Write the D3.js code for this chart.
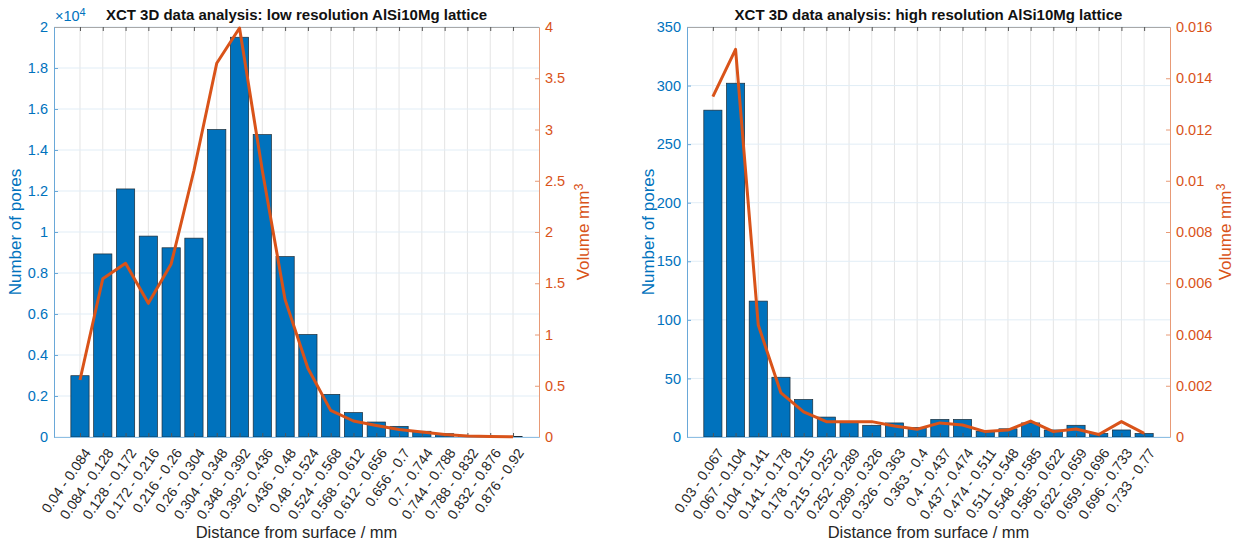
<!DOCTYPE html>
<html>
<head>
<meta charset="utf-8">
<script src="https://cdn.jsdelivr.net/npm/d3@7"></script>
<style>
  body { margin: 0; background: #fff; }
  svg { font-family: "Liberation Sans", Arial, Helvetica, sans-serif; }
</style>
</head>
<body>
<svg id="chart" width="1246" height="547"></svg>
<script>
// ---- data ----
const lowLabels = ["0.04 - 0.084", "0.084 - 0.128", "0.128 - 0.172", "0.172 - 0.216", "0.216 - 0.26",
  "0.26 - 0.304", "0.304 - 0.348", "0.348 - 0.392", "0.392 - 0.436", "0.436 - 0.48",
  "0.48 - 0.524", "0.524 - 0.568", "0.568 - 0.612", "0.612 - 0.656", "0.656 - 0.7",
  "0.7 - 0.744", "0.744 - 0.788", "0.788 - 0.832", "0.832 - 0.876", "0.876 - 0.92"];
const lowCounts = [2990, 8930, 12100, 9800, 9230, 9700, 15000, 19500, 14750, 8800,
  5000, 2080, 1190, 730, 520, 280, 160, 40, 20, 30];
const lowVolume = [0.556, 1.544, 1.694, 1.304, 1.688, 2.6, 3.646, 3.99, 2.6, 1.34,
  0.67, 0.26, 0.156, 0.112, 0.073, 0.049, 0.024, 0.01, 0.005, 0.003];
const lowCountTicks = [0, 2000, 4000, 6000, 8000, 10000, 12000, 14000, 16000, 18000, 20000];
const lowVolumeTicks = [0, 0.5, 1, 1.5, 2, 2.5, 3, 3.5, 4];

const highLabels = ["0.03 - 0.067", "0.067 - 0.104", "0.104 - 0.141", "0.141 - 0.178", "0.178 - 0.215",
  "0.215 - 0.252", "0.252 - 0.289", "0.289 - 0.326", "0.326 - 0.363", "0.363 - 0.4",
  "0.4 - 0.437", "0.437 - 0.474", "0.474 - 0.511", "0.511 - 0.548", "0.548 - 0.585",
  "0.585 - 0.622", "0.622 - 0.659", "0.659 - 0.696", "0.696 - 0.733", "0.733 - 0.77"];
const highCounts = [279, 302, 116, 51, 32, 17, 13, 10, 12, 8,
  15, 15, 5, 7, 12, 6, 10, 3, 6, 3];
const highVolume = [0.01328, 0.01513, 0.00437, 0.00172, 0.00098, 0.0006, 0.0006, 0.0006, 0.00043, 0.0003,
  0.00055, 0.00047, 0.00021, 0.00027, 0.00062, 0.00021, 0.00031, 0.0001, 0.0006, 0.00014];
const highCountTicks = [0, 50, 100, 150, 200, 250, 300, 350];
const highVolumeTicks = [0, 0.002, 0.004, 0.006, 0.008, 0.01, 0.012, 0.014, 0.016];

const blue = "#0072BD", orange = "#D95319";
const svg = d3.select("#chart");

function drawPanel(cfg) {
  const top = 27, bottom = 437;
  const n = cfg.labels.length;
  const g = svg.append("g");

  const x = d3.scaleLinear().domain([-1.14, n - 1 + 1.14]).range([cfg.left, cfg.right]);
  const yL = d3.scaleLinear().domain([0, d3.max(cfg.countTicks)]).range([bottom, top]);
  const yR = d3.scaleLinear().domain([0, d3.max(cfg.volTicks)]).range([bottom, top]);

  // grid
  g.selectAll(".vg").data(d3.range(n)).join("line")
    .attr("x1", d => x(d)).attr("x2", d => x(d))
    .attr("y1", top).attr("y2", bottom)
    .attr("stroke", "#e4e4e4").attr("stroke-width", 1);
  g.selectAll(".hg").data(cfg.countTicks).join("line")
    .attr("x1", cfg.left).attr("x2", cfg.right)
    .attr("y1", d => yL(d)).attr("y2", d => yL(d))
    .attr("stroke", "#e1edf6").attr("stroke-width", 1);

  // bars
  const bw = x(0.4) - x(-0.4);
  g.selectAll(".bar").data(cfg.counts).join("rect")
    .attr("x", (d, i) => x(i) - bw / 2)
    .attr("width", bw)
    .attr("y", d => yL(d))
    .attr("height", d => bottom - yL(d))
    .attr("fill", blue)
    .attr("stroke", "#1c2b36").attr("stroke-width", 0.7);

  // axes frame
  const axL = d3.axisLeft(yL).tickValues(cfg.countTicks).tickFormat(cfg.countFmt).tickSize(-4).tickSizeOuter(0).tickPadding(6);
  const gl = g.append("g").attr("transform", `translate(${cfg.left},0)`).call(axL);
  gl.select(".domain").attr("stroke", "#6aa8d8");
  gl.selectAll(".tick line").attr("stroke", "#6aa8d8");
  gl.selectAll("text").attr("fill", blue).style("font-size", "14.5px");

  const axR = d3.axisRight(yR).tickValues(cfg.volTicks).tickFormat(d => String(+d.toFixed(3))).tickSize(-4).tickSizeOuter(0).tickPadding(6);
  const gr = g.append("g").attr("transform", `translate(${cfg.right},0)`).call(axR);
  gr.select(".domain").attr("stroke", "#e89a76");
  gr.selectAll(".tick line").attr("stroke", "#e89a76");
  gr.selectAll("text").attr("fill", orange).style("font-size", "14.5px");

  const axT = d3.axisTop(x).tickValues(d3.range(n)).tickFormat("").tickSize(-4).tickSizeOuter(0);
  const gt = g.append("g").attr("transform", `translate(0,${top})`).call(axT);
  gt.select(".domain").attr("stroke", "#a8a8a8");
  gt.selectAll(".tick line").attr("stroke", "#555");

  const axB = d3.axisBottom(x).tickValues(d3.range(n)).tickFormat(i => cfg.labels[i]).tickSize(-4).tickSizeOuter(0).tickPadding(0);
  const gb = g.append("g").attr("transform", `translate(0,${bottom})`).call(axB);
  gb.select(".domain").attr("stroke", "#8fbfe3");
  gb.selectAll(".tick line").attr("stroke", "#555");
  gb.selectAll("text")
    .attr("fill", "#262626")
    .style("font-size", "14px")
    .attr("text-anchor", "end")
    .attr("y", 0).attr("dy", "0.35em")
    .attr("transform", "translate(7,13) rotate(-55)");

  // volume line
  const line = d3.line().x((d, i) => x(i)).y(d => yR(d));
  g.append("path").datum(cfg.volume)
    .attr("d", line)
    .attr("fill", "none")
    .attr("stroke", orange)
    .attr("stroke-width", 3)
    .attr("stroke-linejoin", "round");

  // labels
  const cx = (cfg.left + cfg.right) / 2;
  g.append("text").attr("x", cx).attr("y", 20)
    .attr("text-anchor", "middle").style("font-size", "15px").style("font-weight", "bold")
    .attr("fill", "#111").text(cfg.title);
  g.append("text").attr("x", cx).attr("y", 538)
    .attr("text-anchor", "middle").style("font-size", "16.5px")
    .attr("fill", "#262626").text("Distance from surface / mm");
  g.append("text")
    .attr("transform", `translate(${cfg.left - 33},${(top + bottom) / 2}) rotate(-90)`)
    .attr("text-anchor", "middle").style("font-size", "17px")
    .attr("fill", blue).text("Number of pores");
  const vl = g.append("text")
    .attr("transform", `translate(${cfg.volLabelX},${(top + bottom) / 2}) rotate(-90)`)
    .attr("text-anchor", "middle").style("font-size", "17px")
    .attr("fill", orange);
  vl.append("tspan").text("Volume mm");
  vl.append("tspan").attr("dy", "-0.5em").style("font-size", "12.5px").text("3");

  if (cfg.exponent) {
    const ex = g.append("text").attr("x", cfg.left + 1).attr("y", 21)
      .attr("fill", blue).style("font-size", "14.5px");
    ex.append("tspan").text("\u00d710");
    ex.append("tspan").attr("dy", "-0.45em").style("font-size", "11px").text(cfg.exponent);
  }
}

drawPanel({
  left: 54, right: 539,
  labels: lowLabels, counts: lowCounts, volume: lowVolume,
  countTicks: lowCountTicks, volTicks: lowVolumeTicks,
  countFmt: d => String(+(d / 1e4).toFixed(1)),
  volLabelX: 589, exponent: "4",
  title: "XCT 3D data analysis: low resolution AlSi10Mg lattice"
});

drawPanel({
  left: 687, right: 1170,
  labels: highLabels, counts: highCounts, volume: highVolume,
  countTicks: highCountTicks, volTicks: highVolumeTicks,
  countFmt: d => String(d),
  volLabelX: 1231, exponent: null,
  title: "XCT 3D data analysis: high resolution AlSi10Mg lattice"
});
</script>
</body>
</html>
